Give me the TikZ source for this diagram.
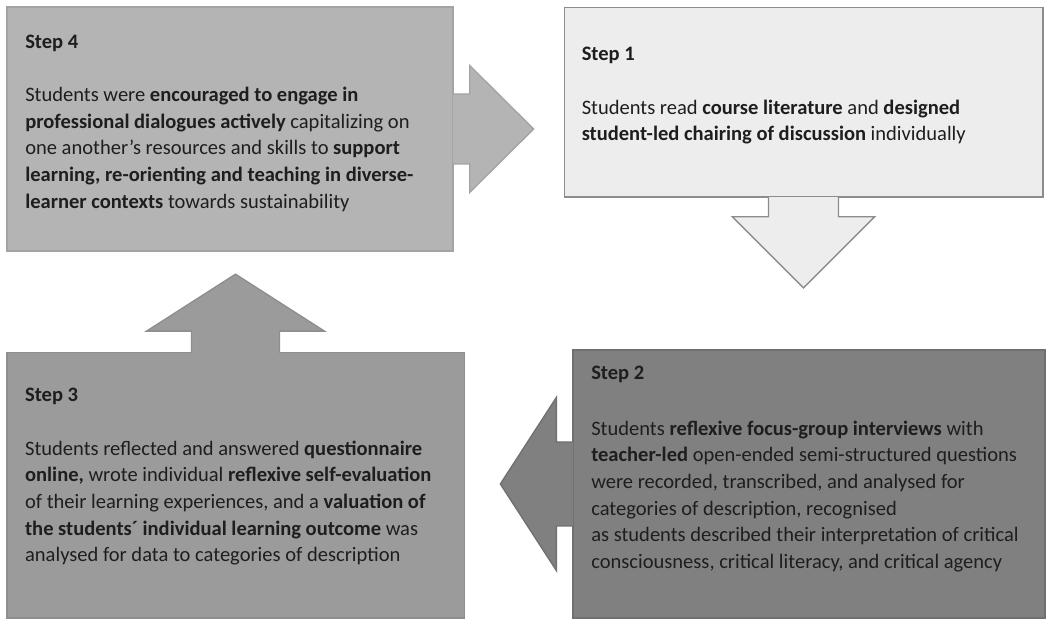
\documentclass[tikz,border=0pt]{standalone}
\usepackage{fontspec}
\setmainfont{Carlito}
\usepackage{xcolor}
\usetikzlibrary{positioning, calc}

\definecolor{onefill}{HTML}{EDEDED}
\definecolor{oneline}{HTML}{8C8C8C}
\definecolor{twofill}{HTML}{808080}
\definecolor{twoline}{HTML}{707070}
\definecolor{threefill}{HTML}{9B9B9B}
\definecolor{threeline}{HTML}{8E8E8E}
\definecolor{fourfill}{HTML}{B4B4B4}
\definecolor{fourline}{HTML}{A3A3A3}
\definecolor{steptextcol}{HTML}{1E1E1E}

\begin{document}
\begin{tikzpicture}[
    x=0.75pt, y=0.75pt,
    stepbox/.style={draw, line width=1pt, inner sep=0pt},
    steptext/.style={inner sep=0pt, align=left, text=steptextcol, font=\fontsize{15.4}{20}\selectfont},
    blockarrow/.style={line width=1pt, line join=miter},
]
    \useasboundingbox (0,0) rectangle (1050,620);

    % the four steps
    \node[stepbox, fill=fourfill, draw=fourline, minimum width=334.5pt, minimum height=183pt] (s4) at (230,491) {};
    \node[stepbox, fill=onefill, draw=oneline, minimum width=359pt, minimum height=142pt] (s1) at (803.5,517.5) {};
    \node[stepbox, fill=threefill, draw=threeline, minimum width=343pt, minimum height=199pt] (s3) at (235.5,134.5) {};
    \node[stepbox, fill=twofill, draw=twoline, minimum width=354pt, minimum height=201pt] (s2) at (809,136) {};

    % block arrows, 4 -> 1 -> 2 -> 3 -> 4
    \begin{scope}[shift={(s4.east)}]
        \filldraw[blockarrow, fill=fourfill, draw=fourline] (-0.7,35) -- (16,35) -- (16,63.5) -- (80,0) -- (16,-63.5) -- (16,-35) -- (-0.7,-35);
    \end{scope}
    \begin{scope}[shift={(s1.south)}, rotate=-90]
        \filldraw[blockarrow, fill=onefill, draw=oneline] (-0.7,35) -- (19,35) -- (19,71) -- (90,0) -- (19,-71) -- (19,-35) -- (-0.7,-35);
    \end{scope}
    \begin{scope}[shift={(s2.west)}, rotate=180]
        \filldraw[blockarrow, fill=twofill, draw=twoline] (-0.7,42) -- (16,42) -- (16,86.5) -- (72,0) -- (16,-86.5) -- (16,-42) -- (-0.7,-42);
    \end{scope}
    \begin{scope}[shift={(s3.north)}, rotate=90]
        \filldraw[blockarrow, fill=threefill, draw=threeline] (-0.7,44) -- (21,44) -- (21,89) -- (78,0) -- (21,-89) -- (21,-44) -- (-0.7,-44);
    \end{scope}

    % texts
    \node[steptext, below right=21pt and 14pt of s4.north west] (s4t) {
        \textbf{Step 4}\\[20pt]
        Students were \textbf{encouraged to engage in}\\
        \textbf{professional dialogues actively} capitalizing on\\
        one another's resources and skills to \textbf{support}\\
        \textbf{learning, re-orienting and teaching in diverse-}\\
        \textbf{learner contexts} towards sustainability
    };
    \node[steptext, below right=30pt and 13.5pt of s1.north west] (s1t) {
        \textbf{Step 1}\\[20pt]
        Students read \textbf{course literature} and \textbf{designed}\\
        \textbf{student-led chairing of discussion} individually
    };
    \node[steptext, below right=27pt and 14pt of s3.north west] (s3t) {
        \textbf{Step 3}\\[20pt]
        Students reflected and answered \textbf{questionnaire}\\
        \textbf{online,} wrote individual \textbf{reflexive self-evaluation}\\
        of their learning experiences, and a \textbf{valuation of}\\
        \textbf{the students´ individual learning outcome} was\\
        analysed for data to categories of description
    };
    \node[steptext, below right=12pt and 14pt of s2.north west] (s2t) {
        \textbf{Step 2}\\[22pt]
        Students \textbf{reflexive focus-group interviews} with\\
        \textbf{teacher-led} open-ended semi-structured questions\\
        were recorded, transcribed, and analysed for\\
        categories of description, recognised\\
        as students described their interpretation of critical\\
        consciousness, critical literacy, and critical agency
    };
\end{tikzpicture}
\end{document}
